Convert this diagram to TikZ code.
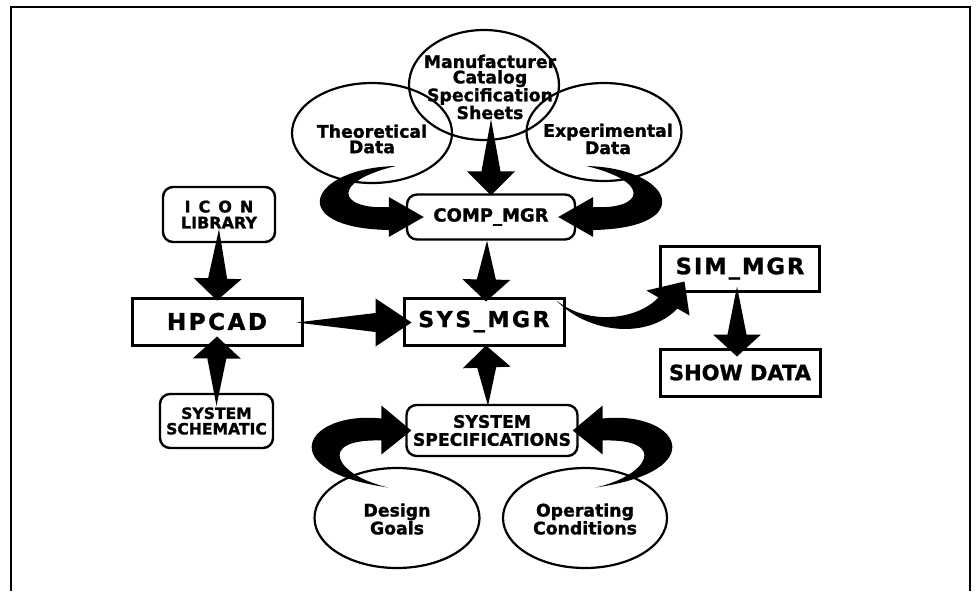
\documentclass[tikz,border=0pt]{standalone}
\usepackage{fontspec}
\setmainfont{DejaVu Sans}[BoldFeatures={FakeBold=1.3}]
\usetikzlibrary{shapes.geometric, calc, positioning}

\newcommand{\fatarrow}[3][22pt]{%
  \path ($(#3)!#1!(#2)$) coordinate (fa-h);
  \fill (#2) -- ($(fa-h)!9.5pt!90:(#3)$) -- ($(fa-h)!24pt!90:(#3)$) -- (#3)
    -- ($(fa-h)!24pt!-90:(#3)$) -- ($(fa-h)!9.5pt!-90:(#3)$) -- cycle;
}

\begin{document}
\begin{tikzpicture}[x=1pt, y=-1pt,
                    ellip/.style={ellipse, draw, line width=2.2pt, inner sep=0pt},
                    etext/.style={align=center, inner sep=0pt, font=\fontsize{17.3}{15.5}\selectfont\bfseries},
                    rbox/.style={draw, rounded corners=10pt, line width=2.4pt, inner sep=0pt, align=center},
                    sbox/.style={draw, line width=3pt, inner sep=0pt, align=center}]
  \useasboundingbox (0,0) rectangle (976,591);
  \draw[line width=1.8pt] (11,591) -- (11,7) -- (970,7) -- (970,591);

  \node[ellip, minimum width=150pt, minimum height=110pt] (manu) at (484,85) {};
  \node[etext] (manu-t) at (490,87) {Manufacturer\\Catalog\\Specification\\Sheets};
  \node[ellip, minimum width=160pt, minimum height=100pt] (theo) at (372,133) {};
  \node[etext] (theo-t) at (372,139) {Theoretical\\Data};
  \node[ellip, minimum width=155pt, minimum height=98pt] (expt) at (604,132) {};
  \node[etext] (expt-t) at (608,139) {Experimental\\Data};
  \node[ellip, minimum width=165pt, minimum height=100pt] (design) at (397,518) {};
  \node[etext] (design-t) at (397,519) {Design\\Goals};
  \node[ellip, minimum width=164pt, minimum height=100pt] (oper) at (585,518) {};
  \node[etext] (oper-t) at (585,519) {Operating\\Conditions};

  \node[rbox, minimum width=112pt, minimum height=55pt, font=\fontsize{16}{16}\selectfont\bfseries] (icon) at (219,214.5) {I\enspace C\enspace O\enspace N\\LIBRARY};
  \node[rbox, minimum width=113pt, minimum height=54pt, font=\fontsize{15.6}{15.5}\selectfont\bfseries] (schem) at (216.5,421) {SYSTEM\\SCHEMATIC};
  \node[rbox, minimum width=168pt, minimum height=45pt, font=\fontsize{18}{18}\selectfont\bfseries] (comp) at (491,217) {COMP\_MGR};
  \node[rbox, minimum width=171pt, minimum height=51pt, font=\fontsize{17.2}{18}\selectfont\bfseries] (spec) at (492,430.5) {SYSTEM\\SPECIFICATIONS};

  \node[sbox, minimum width=170pt, minimum height=47pt, font=\fontsize{23}{23}\selectfont\bfseries\addfontfeature{LetterSpace=11}] (hpcad) at (217,321.5) {HPCAD};
  \node[sbox, minimum width=160pt, minimum height=47pt, font=\fontsize{22}{22}\selectfont\bfseries\addfontfeature{LetterSpace=12}] (sys) at (484,321.5) {SYS\_MGR};
  \node[sbox, minimum width=159pt, minimum height=45pt, font=\fontsize{22.5}{22}\selectfont\bfseries\addfontfeature{LetterSpace=9}] (sim) at (740,268.5) {SIM\_MGR};
  \node[sbox, minimum width=160pt, minimum height=47pt, font=\fontsize{21}{21}\selectfont\bfseries] (show) at (740,372.5) {SHOW DATA};

  \fatarrow{$(icon.south)+(0,-14)$}{$(hpcad.north)+(0,4)$}
  \fatarrow{$(schem.north)+(0,13)$}{$(hpcad.south)+(0,-10)$}
  \fatarrow[36pt]{$(hpcad.east)+(-7,1)$}{$(sys.west)+(9,1)$}
  \fatarrow[24pt]{$(manu.south)+(7,-22)$}{$(comp.north)+(0,2)$}
  \fatarrow{$(comp.south)+(-4,0)$}{$(sys.north)+(2,5)$}
  \fatarrow{$(spec.north)+(-4,2)$}{$(sys.south)+(2,-1)$}
  \fatarrow{$(sim.south)+(-3,-6)$}{$(show.north)+(-3,9)$}

  \begin{scope}[shift={(comp.west)}]
    \fill (-10,-51) .. controls (-97,-49) and (-122,11) .. (-17,13) -- (-17,20) -- (18,0)
      -- (-17,-20) -- (-17,-10) .. controls (-67,-7) and (-77,-35) .. cycle;
  \end{scope}
  \begin{scope}[shift={(comp.east)}, xscale=-1]
    \fill (-10,-51) .. controls (-97,-49) and (-122,11) .. (-17,13) -- (-17,20) -- (18,0)
      -- (-17,-20) -- (-17,-10) .. controls (-67,-7) and (-77,-35) .. cycle;
  \end{scope}
  \begin{scope}[shift={(spec.west)}]
    \fill (-17,57) .. controls (-135,40) and (-100,-20) .. (-24,-12) -- (-24,-25) -- (6,0)
      -- (-24,24) -- (-24,10) .. controls (-90,8) and (-70,45) .. cycle;
  \end{scope}
  \begin{scope}[shift={(spec.east)}, xscale=-1]
    \fill (-17,57) .. controls (-135,40) and (-100,-20) .. (-24,-12) -- (-24,-25) -- (6,0)
      -- (-24,24) -- (-24,10) .. controls (-90,8) and (-70,45) .. cycle;
  \end{scope}
  \begin{scope}[shift={(sys.north east)}]
    \fill (-9,4) .. controls (20,35) and (80,45) .. (112,12) -- (124,19) -- (119,-15)
      -- (81,-6) -- (93,1) .. controls (70,25) and (20,28) .. cycle;
  \end{scope}
\end{tikzpicture}
\end{document}
